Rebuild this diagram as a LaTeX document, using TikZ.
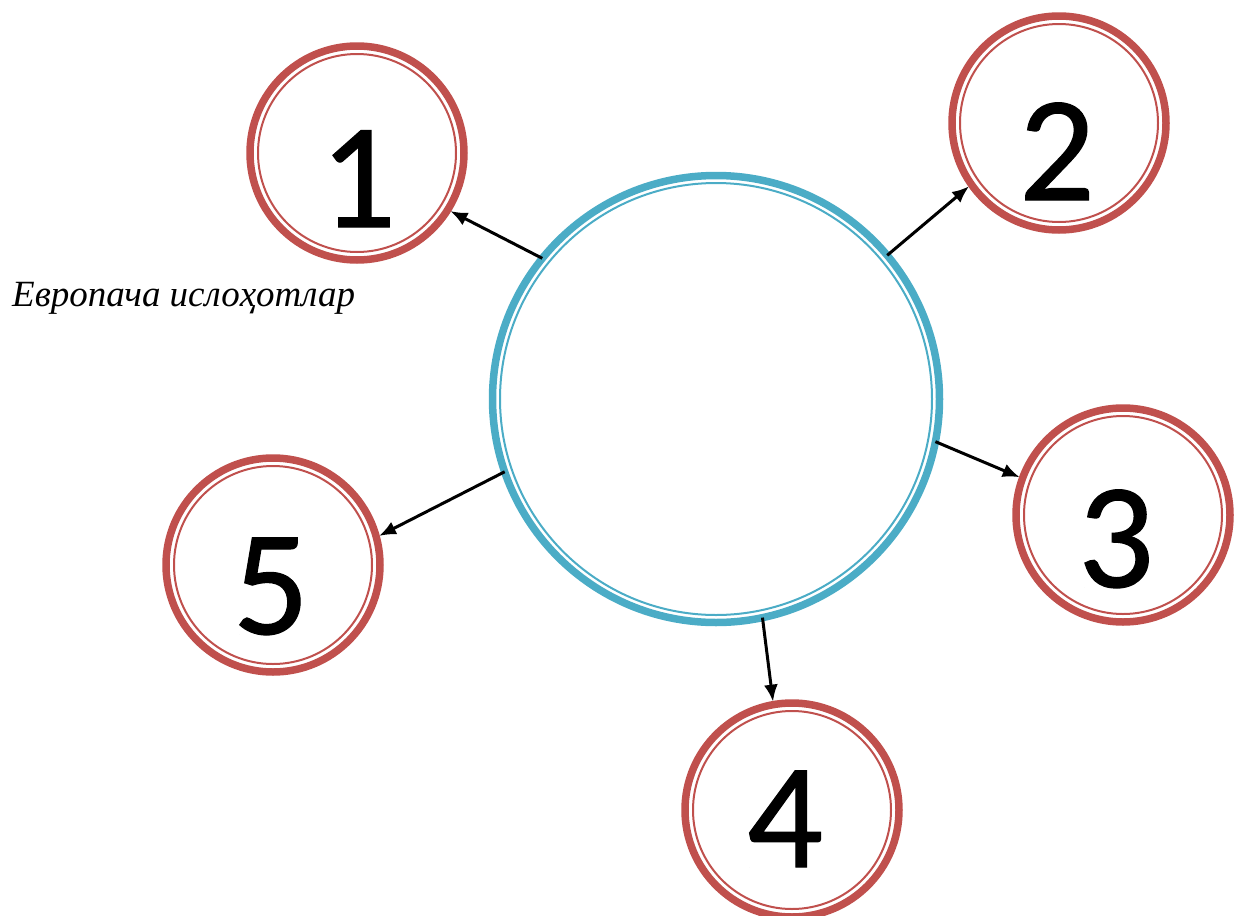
\documentclass[tikz,border=0pt]{standalone}
\usepackage{fontspec}
\setmainfont{Liberation Serif}
\newfontfamily\digitfont[FakeBold=0.8]{Carlito}
\usetikzlibrary{arrows.meta}
\definecolor{ringred}{HTML}{C0504D}
\definecolor{ringblue}{HTML}{4BACC6}
\tikzset{
  redring/.style={circle, draw=ringred, line width=7.5pt, minimum size=214pt, inner sep=0pt, outer sep=0pt},
  redinner/.style={circle, draw=ringred, line width=2pt, minimum size=198pt, inner sep=0pt, outer sep=0pt},
  bluering/.style={circle, draw=ringblue, line width=7.5pt, minimum size=447pt, inner sep=0pt, outer sep=0pt},
  blueinner/.style={circle, draw=ringblue, line width=2pt, minimum size=432pt, inner sep=0pt, outer sep=0pt},
  digit/.style={anchor=base, inner sep=0pt, font=\digitfont\fontsize{150}{150}\selectfont},
  link/.style={draw=black, line width=3pt, -{Latex[length=17pt,width=14pt]}, shorten >=3pt},
  caption/.style={anchor=base west, inner sep=0pt, font=\itshape\fontsize{37}{42}\selectfont}
}
\begin{document}
\begin{tikzpicture}[x=1pt,y=-1pt]
\useasboundingbox (0,0) rectangle (1243,916);
% hub
\node[bluering] (hub) at (716,399) {};
\node[blueinner] (hubi) at (716,399) {};
% small circles
\node[redring] (c1) at (357,153) {};
\node[redinner] (c1i) at (357,153) {};
\node[redring] (c2) at (1059,123) {};
\node[redinner] (c2i) at (1059,123) {};
\node[redring] (c3) at (1123,515) {};
\node[redinner] (c3i) at (1123,515) {};
\node[redring] (c4) at (792,810) {};
\node[redinner] (c4i) at (792,810) {};
\node[redring] (c5) at (273,565) {};
\node[redinner] (c5i) at (273,565) {};
% digits
\node[digit] (d1) at (358,227) {1};
\node[digit] (d2) at (1057,200) {2};
\node[digit] (d3) at (1116,587) {3};
\node[digit] (d4) at (785,867) {4};
\node[digit] (d5) at (271,634) {5};
% caption
\node[caption] (cap) at (12,306) {Европача ислоҳотлар};
% connectors
\draw[link] (hub.141.1) -- (c1.-32.1);
\draw[link] (hub.40.4) -- (c2.215.2);
\draw[link] (hub.-11.6) -- (c3.160.7);
\draw[link] (hub.-78.8) -- (c4.100.9);
\draw[link] (hub.199.6) -- (c5.15.2);
\end{tikzpicture}
\end{document}
